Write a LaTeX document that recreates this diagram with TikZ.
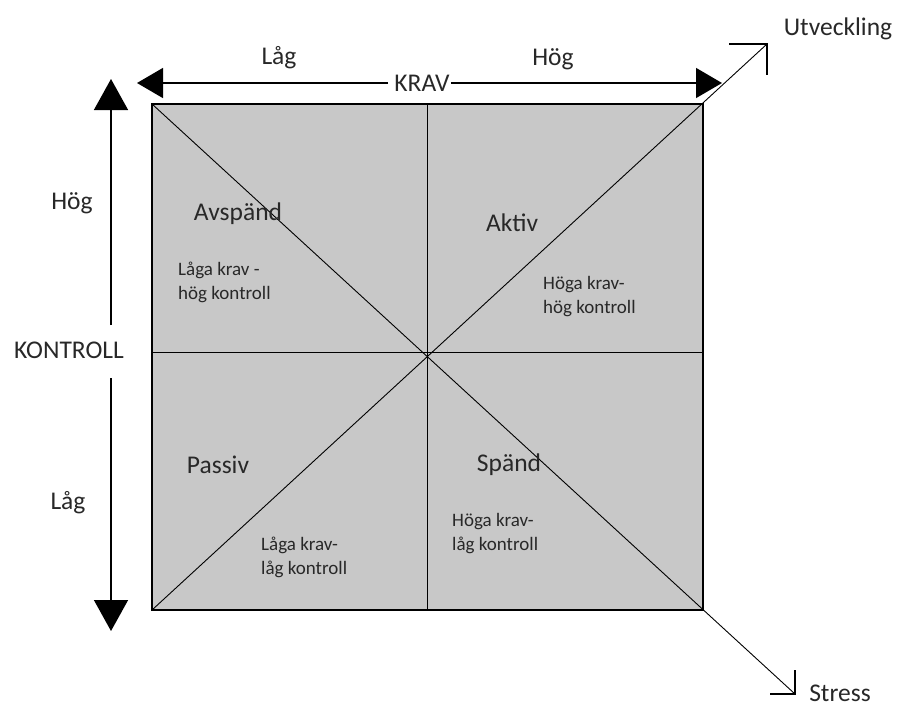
\documentclass[tikz,border=0pt]{standalone}
\usepackage{fontspec}
\setmainfont{Carlito}
\usetikzlibrary{arrows.meta}
\definecolor{quad}{RGB}{200,200,200}
\definecolor{txt}{RGB}{40,40,40}
\tikzset{
  big/.style={font=\fontsize{25.5}{28}\selectfont, text=txt, inner sep=1pt},
  small/.style={font=\fontsize{19}{24}\selectfont, text=txt, align=left, inner sep=0pt, anchor=north west},
  axis/.style={line width=1.4pt},
  diag/.style={line width=0.9pt},
  hhead/.style={-{Triangle[length=26pt,width=30pt]}},
  vhead/.style={-{Triangle[length=31pt,width=34pt]}},
}
\begin{document}
\begin{tikzpicture}[x=1pt,y=-1pt]
\useasboundingbox (0,0) rectangle (902,707);
% square
\coordinate (tl) at (152,104);
\coordinate (tr) at (703,104);
\coordinate (bl) at (152,610);
\coordinate (br) at (703,610);
\coordinate (tm) at (427,104);
\coordinate (bm) at (427,610);
\coordinate (lm) at (152,352);
\coordinate (rm) at (703,352);
\fill[quad] (tl) rectangle (br);
\draw[diag] (tm) -- (bm);
\draw[diag] (lm) -- (rm);
% diagonals with open arrowheads
\coordinate (utip) at (767,44);
\coordinate (uh1) at (729,44);
\coordinate (uh2) at (767,75);
\coordinate (stip) at (795,694);
\coordinate (sh1) at (770,694);
\coordinate (sh2) at (795,670);
\draw[diag] (bl) -- (utip);
\draw[diag] (tl) -- (stip);
\draw[line width=1.1pt] (uh1) -- (utip) -- (uh2);
\draw[line width=1.1pt] (sh1) -- (stip) -- (sh2);
\draw[line width=1.5pt] (tl) rectangle (br);
% top axis
\node[big] (krav) at (422,83) {KRAV};
\coordinate (ltip) at (137,83);
\coordinate (rtip) at (722,83);
\coordinate (kl) at (388,83);
\draw[axis,hhead] (kl) -- (ltip);
\draw[axis,hhead] (krav.east) -- (rtip);
\node[big] (klag) at (279,58) {Låg};
\node[big] (khog) at (553,59) {Hög};
% left axis
\node[big] (kontroll) at (69,350) {KONTROLL};
\coordinate (ttip) at (111,79);
\coordinate (btip) at (111,631);
\coordinate (vt) at (111,325);
\coordinate (vb) at (111,378);
\draw[axis,vhead] (vt) -- (ttip);
\draw[axis,vhead] (vb) -- (btip);
\node[big] (chog) at (72,203) {Hög};
\node[big] (clag) at (68,503) {Låg};
% end labels
\node[big] (utv) at (838,29) {Utveckling};
\node[big,inner sep=0pt] (stress) at (840,693) {Stress};
% quadrants
\node[big] (avsp) at (238,214) {Avspänd};
\node[small] (avspt) at (178,262) {Låga krav -\\hög kontroll};
\node[big] (aktiv) at (512,223) {Aktiv};
\node[small] (aktivt) at (543,276) {Höga krav-\\hög kontroll};
\node[big] (passiv) at (218,465) {Passiv};
\node[small] (passivt) at (261,537) {Låga krav-\\låg kontroll};
\node[big] (spand) at (509,465) {Spänd};
\node[small] (spandt) at (452,513) {Höga krav-\\låg kontroll};
\end{tikzpicture}
\end{document}
